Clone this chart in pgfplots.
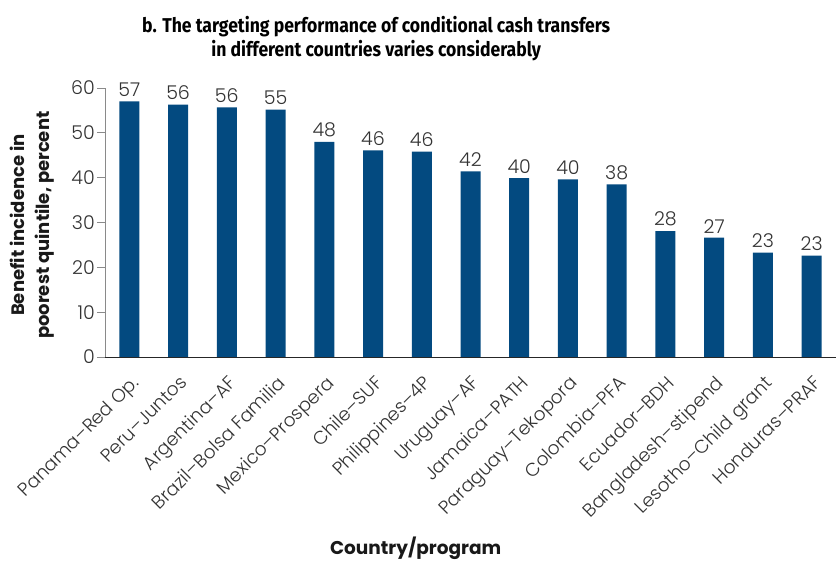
\documentclass[border=0pt]{standalone}
\usepackage{pgfplots}
\pgfplotsset{compat=1.18}
\usepackage{pgfplotstable}
\usepackage{fontspec}
\setmainfont{Poppins}[UprightFont={* Light}, BoldFont={* Bold}]
\newfontfamily\titlefont{Fira Sans}[FakeStretch=0.88]
\definecolor{barblue}{HTML}{034A80}
\definecolor{txtgray}{HTML}{333333}
\definecolor{tickgray}{HTML}{8A8A8A}
\pgfplotstableread{
x y lab
0 57.0 57
1 56.3 56
2 55.7 56
3 55.2 55
4 48.0 48
5 46.1 46
6 45.8 46
7 41.4 42
8 39.9 40
9 39.6 40
10 38.5 38
11 28.1 28
12 26.6 27
13 23.3 23
14 22.6 23
}\data
\begin{document}
\begin{tikzpicture}
\begin{axis}[
  scale only axis,
  width=731pt, height=269pt,
  xmin=-0.5, xmax=14.5,
  ymin=0, ymax=60,
  axis x line=bottom, axis y line=left,
  axis line style={-},
  x axis line style={draw=black!85, line width=0.8pt},
  y axis line style={draw=tickgray, line width=0.8pt},
  ytick={0,10,...,60},
  xtick={0,...,14},
  xticklabels={Panama–Red Op.,Peru–Juntos,Argentina–AF,Brazil–Bolsa Familia,Mexico–Prospera,Chile–SUF,Philippines–4P,Uruguay–AF,Jamaica–PATH,Paraguay–Tekopora,Colombia–PFA,Ecuador–BDH,Bangladesh–stipend,Lesotho–Child grant,Honduras–PRAF},
  major x tick style={draw=none},
  extra x ticks={-0.5,0.5,...,13.5},
  extra x tick labels={},
  extra x tick style={tick style={draw=tickgray, line width=0.8pt}, major tick length=8pt},
  tick align=outside,
  major tick length=8pt,
  ytick style={draw=tickgray, line width=0.8pt},
  tick label style={font=\fontsize{18.5}{22}\selectfont, text=txtgray},
  xticklabel style={rotate=45, anchor=north east, inner sep=1pt, yshift=-6pt, xshift=-5pt},
  yticklabel style={inner sep=2pt, font=\fontsize{19}{22}\selectfont},
  /pgf/number format/assume math mode=true,
  ylabel={\textbf{Benefit incidence in}\\\textbf{poorest quintile, percent}},
  ylabel style={at={(axis description cs:-0.099,0.49)}, anchor=center, align=center, font=\fontsize{18}{25}\selectfont, text=black!90},
  xlabel={\textbf{Country/program}},
  xlabel style={at={(axis description cs:0.425,-0.712)}, anchor=center, font=\fontsize{18.5}{22}\selectfont, text=black!90},
  title={\titlefont\bfseries b. The targeting performance of conditional cash transfers\\\titlefont\bfseries in different countries varies considerably},
  title style={at={(axis description cs:0.371,1.16)}, anchor=center, align=center, font=\fontsize{20}{24}\selectfont},
  clip=false,
  nodes near coords={\pgfplotspointmeta},
  point meta=explicit symbolic,
  nodes near coords style={font=\fontsize{19}{22}\selectfont, text=txtgray, anchor=south, inner sep=4.5pt},
]
\addplot[ybar, bar width=20pt, fill=barblue, draw=none] table[x=x, y=y, meta=lab]{\data};
\end{axis}
\pgfresetboundingbox
\path[use as bounding box] (-105pt,-204pt) rectangle (731pt,357pt);
\end{tikzpicture}
\end{document}
